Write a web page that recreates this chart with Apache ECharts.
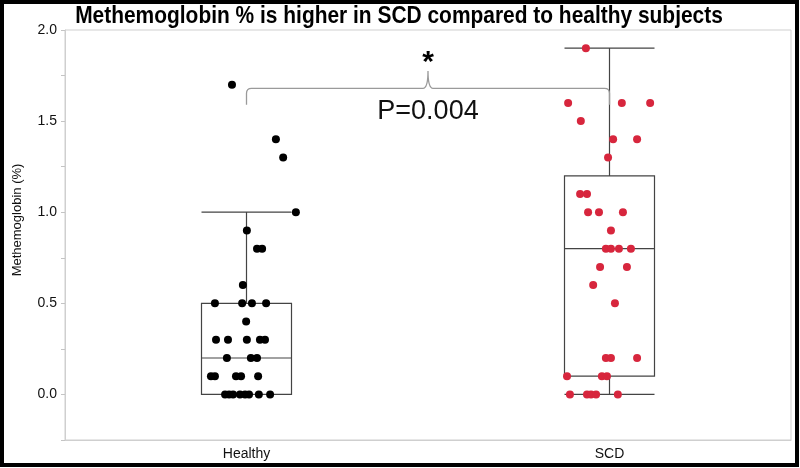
<!DOCTYPE html>
<html>
<head>
<meta charset="utf-8">
<script src="https://cdn.jsdelivr.net/npm/echarts@6/dist/echarts.min.js"></script>
<style>
html,body{margin:0;padding:0;background:#fff;}
#chart{width:800px;height:468px;}
</style>
</head>
<body>
<div id="chart"></div>
<script>
// ---- data ----
const categories = ['Healthy', 'SCD'];
const healthyBox = [0, 0, 0.2, 0.5, 1.0];   // min, Q1, median, Q3, max (whiskers)
const scdBox = [0, 0.1, 0.8, 1.2, 1.9];

// individual observations (y) and jittered horizontal position (x, in category units 0..2)
const healthyY = [1.7, 1.4, 1.3, 1.0, 0.9, 0.8, 0.8, 0.6,
  0.5, 0.5, 0.5, 0.5, 0.4,
  0.3, 0.3, 0.3, 0.3, 0.3,
  0.2, 0.2, 0.2,
  0.1, 0.1, 0.1, 0.1, 0.1,
  0.0, 0.0, 0.0, 0.0, 0.0, 0.0, 0.0, 0.0];
const healthyX = [0.460, 0.581, 0.601, 0.636, 0.501, 0.529, 0.543, 0.490,
  0.413, 0.488, 0.515, 0.554, 0.499,
  0.416, 0.449, 0.501, 0.537, 0.551,
  0.446, 0.512, 0.529,
  0.402, 0.413, 0.471, 0.485, 0.532,
  0.441, 0.452, 0.463, 0.482, 0.496, 0.507, 0.534, 0.565];

const scdY = [1.9, 1.6, 1.6, 1.6, 1.5, 1.4, 1.4, 1.3,
  1.1, 1.1, 1.0, 1.0, 1.0, 0.9,
  0.8, 0.8, 0.8, 0.8, 0.7, 0.7, 0.6, 0.5,
  0.2, 0.2, 0.2, 0.1, 0.1, 0.1,
  0.0, 0.0, 0.0, 0.0, 0.0];
const scdX = [1.435, 1.386, 1.534, 1.612, 1.421, 1.510, 1.576, 1.496,
  1.419, 1.438, 1.441, 1.471, 1.537, 1.504,
  1.490, 1.504, 1.526, 1.559, 1.474, 1.548, 1.455, 1.515,
  1.490, 1.504, 1.576, 1.383, 1.479, 1.493,
  1.391, 1.438, 1.449, 1.463, 1.523];

const titleText = 'Methemoglobin % is higher in SCD compared to healthy subjects';
const yAxisName = 'Methemoglobin (%)';
const pValueLabel = 'P=0.004';
const sigMark = '*';

// ---- chart ----
const chart = echarts.init(document.getElementById('chart'), null, {renderer: 'canvas'});

const healthyPts = healthyX.map((x, i) => [x, healthyY[i]]);
const scdPts = scdX.map((x, i) => [x, scdY[i]]);

const bracket = {
  left: 0.5, right: 1.5, center: 1.0,
  legY: 1.59, barY: 1.68, tipY: 1.775,
  starY: 1.82, pY: 1.555
};

const option = {
  animation: false,
  backgroundColor: '#fff',
  graphic: [{
    type: 'text',
    x: 399, y: 16,
    scaleX: 0.872,
    style: {
      text: titleText,
      align: 'center', verticalAlign: 'middle',
      font: 'bold 24px "Liberation Sans", Arial, sans-serif',
      fill: '#000'
    },
    z: 50
  }, {
    type: 'rect',
    shape: {x: 2, y: 2, width: 795, height: 463},
    style: {fill: 'none', stroke: '#000', lineWidth: 4},
    z: 100
  }],
  grid: {
    left: 65, right: 9, top: 30, bottom: 28,
    show: true, borderColor: '#cfcfcf', borderWidth: 1
  },
  xAxis: [{
    type: 'category',
    data: categories,
    boundaryGap: true,
    axisLine: {onZero: false, lineStyle: {color: '#cfcfcf'}},
    axisTick: {show: false},
    axisLabel: {
      color: '#111', fontSize: 14, margin: 7,
      fontFamily: '"Liberation Sans", Arial, sans-serif'
    },
    splitLine: {show: false}
  }, {
    type: 'value',
    min: 0, max: 2,
    show: false,
    axisLine: {onZero: false},
    splitLine: {show: false}
  }],
  yAxis: {
    type: 'value',
    min: -0.25, max: 2.0,
    interval: 0.25,
    name: yAxisName,
    nameLocation: 'middle',
    nameGap: 41,
    nameTextStyle: {
      color: '#111', fontSize: 13,
      fontFamily: '"Liberation Sans", Arial, sans-serif',
      padding: [0, 0, 0, 30]
    },
    axisLine: {show: true, onZero: false, lineStyle: {color: '#cfcfcf'}},
    axisTick: {
      show: true, length: 4,
      lineStyle: {color: '#c4c4c4'},
      interval: function (idx, val) { return Number(val) > -0.2; }
    },
    axisLabel: {
      color: '#111', fontSize: 14, margin: 8,
      fontFamily: '"Liberation Sans", Arial, sans-serif',
      formatter: function (v) {
        const r = Math.round(v * 100) / 100;
        if (Math.abs(r * 2 - Math.round(r * 2)) > 1e-6 || r < 0) return '';
        return r.toFixed(1);
      }
    },
    splitLine: {show: false}
  },
  series: [{
    type: 'boxplot',
    xAxisIndex: 0,
    data: [healthyBox, scdBox],
    boxWidth: [90, 90],
    itemStyle: {color: 'transparent', borderColor: '#444', borderWidth: 1.2},
    z: 2
  }, {
    type: 'scatter',
    xAxisIndex: 1,
    data: healthyPts,
    symbolSize: 8,
    itemStyle: {color: '#000', opacity: 1},
    z: 5
  }, {
    type: 'scatter',
    xAxisIndex: 1,
    data: scdPts,
    symbolSize: 8,
    itemStyle: {color: '#d7263d', opacity: 1},
    z: 5
  }, {
    type: 'custom',
    xAxisIndex: 1,
    data: [[bracket.center, bracket.barY]],
    z: 6,
    silent: true,
    renderItem: function (params, api) {
      const [xl, yb] = api.coord([bracket.left, bracket.legY]);
      const [xr] = api.coord([bracket.right, bracket.legY]);
      const [, yh] = api.coord([bracket.center, bracket.barY]);
      const [xc, yp] = api.coord([bracket.center, bracket.tipY]);
      const [, ys] = api.coord([bracket.center, bracket.starY]);
      const [, ypv] = api.coord([bracket.center, bracket.pY]);
      const r = 5;
      const d = 'M' + xl + ',' + yb + ' L' + xl + ',' + (yh + r) +
        ' Q' + xl + ',' + yh + ' ' + (xl + r) + ',' + yh +
        ' L' + (xc - r) + ',' + yh +
        ' Q' + xc + ',' + yh + ' ' + xc + ',' + yp +
        ' Q' + xc + ',' + yh + ' ' + (xc + r) + ',' + yh +
        ' L' + (xr - r) + ',' + yh +
        ' Q' + xr + ',' + yh + ' ' + xr + ',' + (yh + r) +
        ' L' + xr + ',' + yb;
      return {
        type: 'group',
        children: [{
          type: 'path',
          shape: {pathData: d},
          style: {fill: 'none', stroke: '#9a9a9a', lineWidth: 1.3}
        }, {
          type: 'text',
          style: {
            x: xc, y: ys, text: sigMark,
            align: 'center', verticalAlign: 'middle',
            font: 'bold 30px "Liberation Sans", Arial, sans-serif',
            fill: '#000'
          }
        }, {
          type: 'text',
          style: {
            x: xc, y: ypv, text: pValueLabel,
            align: 'center', verticalAlign: 'middle',
            font: '27px "Liberation Sans", Arial, sans-serif',
            fill: '#111'
          }
        }]
      };
    }
  }]
};

chart.setOption(option);
</script>
</body>
</html>
